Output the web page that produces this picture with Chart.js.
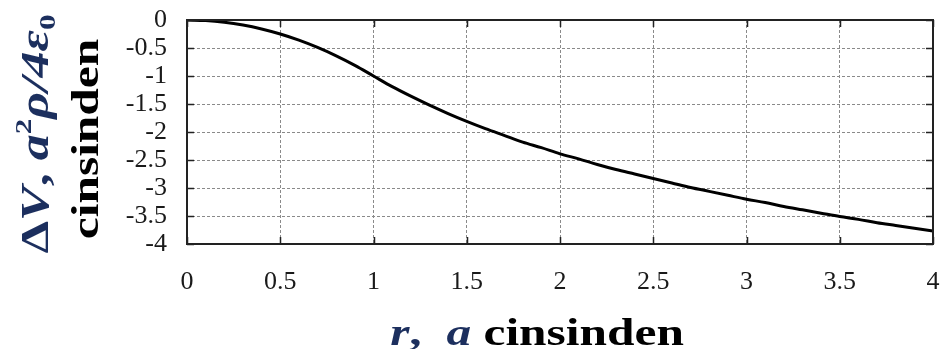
<!DOCTYPE html>
<html>
<head>
<meta charset="utf-8">
<script src="https://cdn.jsdelivr.net/npm/chart.js@4"></script>
<style>
  html, body { margin: 0; padding: 0; background: #fff; }
  #wrap { width: 941px; height: 349px; }
</style>
</head>
<body>
<div id="wrap"><canvas id="chart" width="941" height="349"></canvas></div>
<script>
// r in units of a
const rValues = [0, 0.1, 0.2, 0.3, 0.4, 0.5, 0.6, 0.7, 0.8, 0.9, 1.0,
    1.1, 1.2, 1.3, 1.4, 1.5, 1.6, 1.7, 1.8, 1.9, 2.0,
    2.1, 2.2, 2.3, 2.4, 2.5, 2.6, 2.7, 2.8, 2.9, 3.0,
    3.1, 3.2, 3.3, 3.4, 3.5, 3.6, 3.7, 3.8, 3.9, 4.0];
// potential difference
const deltaV = [0, -0.01, -0.04, -0.09, -0.16, -0.25, -0.36, -0.49, -0.64, -0.81, -1.0,
    -1.19, -1.36, -1.52, -1.67, -1.81, -1.94, -2.06, -2.18, -2.28, -2.39,
    -2.48, -2.58, -2.67, -2.75, -2.83, -2.91, -2.99, -3.06, -3.13, -3.20,
    -3.26, -3.33, -3.39, -3.45, -3.51, -3.56, -3.62, -3.67, -3.72, -3.77];
const xTickLabels = ['0', '0.5', '1', '1.5', '2', '2.5', '3', '3.5', '4'];
const yTickLabels = ['-4', '-3.5', '-3', '-2.5', '-2', '-1.5', '-1', '-0.5', '0'];

const SERIF = '"Liberation Serif", "Times New Roman", serif';
const NAVY = '#1c2f5e';

function drawRuns(ctx, runs, x, y, rotate, stretch) {
    ctx.save();
    ctx.translate(x, y);
    if (rotate) ctx.rotate(-Math.PI / 2);
    ctx.scale(stretch, 1);
    let total = 0;
    runs.forEach(r => { ctx.font = r.f; total += ctx.measureText(r.t).width; });
    let cx = -total / 2;
    ctx.textBaseline = 'alphabetic';
    ctx.textAlign = 'left';
    runs.forEach(r => {
        ctx.font = r.f;
        ctx.fillStyle = r.c || '#000';
        ctx.fillText(r.t, cx, r.dy || 0);
        cx += ctx.measureText(r.t).width;
    });
    ctx.restore();
}

const framePlugin = {
    id: 'frame',
    afterDraw(chart) {
        const { ctx, chartArea: a, scales } = chart;
        ctx.save();
        // inward ticks on all four sides
        ctx.strokeStyle = '#222';
        ctx.lineWidth = 1.5;
        const len = 7;
        scales.x.ticks.forEach(t => {
            const px = Math.round(scales.x.getPixelForValue(t.value)) + 0.5;
            ctx.beginPath();
            ctx.moveTo(px, a.bottom); ctx.lineTo(px, a.bottom - len);
            ctx.moveTo(px, a.top); ctx.lineTo(px, a.top + len);
            ctx.stroke();
        });
        scales.y.ticks.forEach(t => {
            const py = Math.round(scales.y.getPixelForValue(t.value)) + 0.5;
            ctx.beginPath();
            ctx.moveTo(a.left, py); ctx.lineTo(a.left + len, py);
            ctx.moveTo(a.right, py); ctx.lineTo(a.right - len, py);
            ctx.stroke();
        });
        ctx.lineWidth = 2;
        ctx.strokeRect(a.left, a.top, a.right - a.left, a.bottom - a.top);
        ctx.restore();

        // axis titles
        const big = 'bold 38px ' + SERIF;
        const bigIt = 'italic bold 38px ' + SERIF;
        drawRuns(ctx, [
            { t: 'r', f: bigIt, c: NAVY },
            { t: ',  ', f: big, c: NAVY },
            { t: 'a', f: bigIt, c: NAVY },
            { t: ' cinsinden', f: big }
        ], 537, 345, false, 1.3);

        const yf = 'bold 40px ' + SERIF;
        const yfi = 'italic bold 40px ' + SERIF;
        const small = 'bold 24px ' + SERIF;
        drawRuns(ctx, [
            { t: 'Δ', f: yf, c: NAVY },
            { t: 'V', f: yfi, c: NAVY },
            { t: ', ', f: yf, c: NAVY },
            { t: 'a', f: yfi, c: NAVY },
            { t: '2', f: small, c: NAVY, dy: -17 },
            { t: 'ρ', f: yfi, c: NAVY },
            { t: '/4', f: yfi, c: NAVY },
            { t: 'ε', f: yfi, c: NAVY },
            { t: '0', f: small, c: NAVY, dy: 7 }
        ], 48, 134, true, 1.3);
        drawRuns(ctx, [
            { t: 'cinsinden', f: 'bold 38px ' + SERIF }
        ], 98, 139, true, 1.3);
    }
};

new Chart(document.getElementById('chart'), {
    type: 'line',
    data: {
        datasets: [{
            data: rValues.map((r, i) => ({ x: r, y: deltaV[i] })),
            borderColor: '#000',
            borderWidth: 3,
            pointRadius: 0,
            cubicInterpolationMode: 'monotone',
            fill: false
        }]
    },
    options: {
        responsive: false,
        animation: false,
        layout: { padding: { top: 20, right: 8, left: 0, bottom: 0 } },
        plugins: { legend: { display: false }, tooltip: { enabled: false } },
        scales: {
            x: {
                type: 'linear',
                min: 0,
                max: 4,
                ticks: {
                    stepSize: 0.5,
                    autoSkip: false,
                    color: '#1a1a1a',
                    padding: 23,
                    maxRotation: 0,
                    font: { family: SERIF, size: 26 },
                    callback: (v, i) => xTickLabels[i]
                },
                grid: { color: '#8a8a8a', lineWidth: 1, drawTicks: false },
                border: { display: false, dash: [3, 2] },
                afterFit: s => {
                    s.height = 105;
                    s.paddingLeft = 0; s.paddingRight = 0;
                    s.paddingTop = 0; s.paddingBottom = 0;
                }
            },
            y: {
                min: -4,
                max: 0,
                ticks: {
                    stepSize: 0.5,
                    autoSkip: false,
                    color: '#1a1a1a',
                    padding: 20,
                    font: { family: SERIF, size: 26 },
                    callback: (v, i) => yTickLabels[i]
                },
                grid: { color: '#8a8a8a', lineWidth: 1, drawTicks: false },
                border: { display: false, dash: [3, 2] },
                afterFit: s => {
                    s.width = 187;
                    s.paddingLeft = 0; s.paddingRight = 0;
                    s.paddingTop = 0; s.paddingBottom = 0;
                }
            }
        }
    },
    plugins: [framePlugin]
});
</script>
</body>
</html>
